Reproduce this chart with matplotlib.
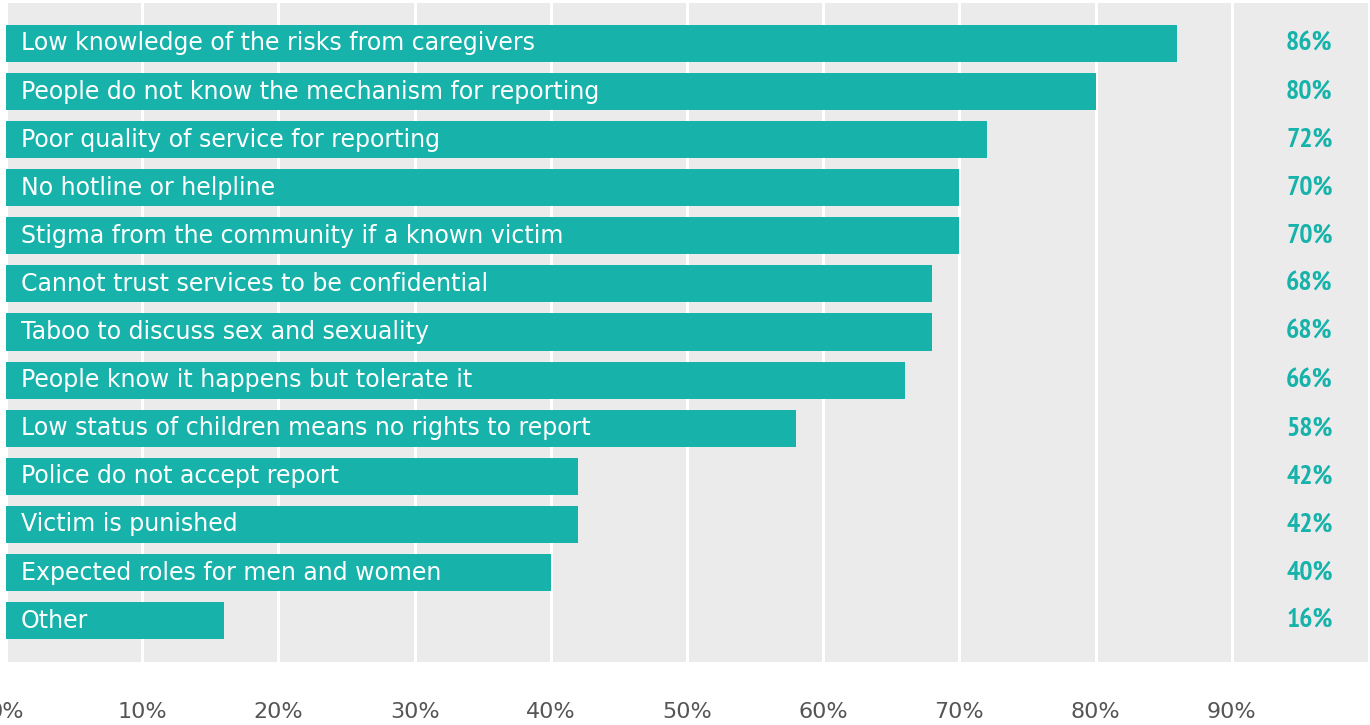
import matplotlib.pyplot as plt
from matplotlib import font_manager

# data
barriers = [
    "Low knowledge of the risks from caregivers",
    "People do not know the mechanism for reporting",
    "Poor quality of service for reporting",
    "No hotline or helpline",
    "Stigma from the community if a known victim",
    "Cannot trust services to be confidential",
    "Taboo to discuss sex and sexuality",
    "People know it happens but tolerate it",
    "Low status of children means no rights to report",
    "Police do not accept report",
    "Victim is punished",
    "Expected roles for men and women",
    "Other",
]
shares = [86, 80, 72, 70, 70, 68, 68, 66, 58, 42, 42, 40, 16]
ticks = [0, 10, 20, 30, 40, 50, 60, 70, 80, 90]
tick_labels = [f"{t}%" for t in ticks]

teal = "#17b3ab"
bg = "#ebebeb"


# look for a narrow / condensed bold face for the value labels
def pick_narrow():
    best = None
    for f in font_manager.fontManager.ttflist:
        low = (f.name + " " + f.fname).lower()
        score = 0
        if "narrow" in low:
            score = 4
        elif "condensed" in low or f.stretch in ("condensed", "semi-condensed", "extra-condensed"):
            score = 2
        if not score:
            continue
        if f.weight in ("bold", 700) or "bold" in low:
            score += 1
        if "oblique" in low or "italic" in low:
            score -= 3
        if best is None or score > best[0]:
            best = (score, f.fname, "narrow" in low)
    return best


found = pick_narrow()
if found:
    num_prop = font_manager.FontProperties(fname=found[1])
    num_prop.set_size(20 if found[2] else 16.5)
else:
    num_prop = font_manager.FontProperties(family="DejaVu Sans", weight="bold", size=15)

fig = plt.figure(figsize=(13.7, 7.25), dpi=100)
ax = fig.add_axes([6 / 1370, 1 - 662 / 725, 1362 / 1370, 659 / 725])
ax.set_facecolor(bg)

y = list(range(len(barriers)))
ax.barh(y, shares, height=0.77, color=teal, zorder=3)

for i, (name, v) in enumerate(zip(barriers, shares)):
    ax.text(1.1, i, name, color="white", fontsize=17, va="center", ha="left",
            family="DejaVu Sans", zorder=4)
    ax.text(95.7, i, f"{v}%", color=teal, fontproperties=num_prop,
            va="center", ha="center", zorder=4)

ax.set_xlim(0, 100)
ax.set_ylim(len(barriers) - 1 + 0.86, -0.84)
ax.set_xticks(ticks)
ax.set_xticklabels(tick_labels, fontsize=16, color="#555555", family="DejaVu Sans")
ax.set_yticks([])
ax.tick_params(axis="x", length=0, pad=29)
ax.grid(axis="x", color="white", linewidth=2.2, zorder=1)
for s in ax.spines.values():
    s.set_visible(False)

fig.savefig("out.png", dpi=100)
